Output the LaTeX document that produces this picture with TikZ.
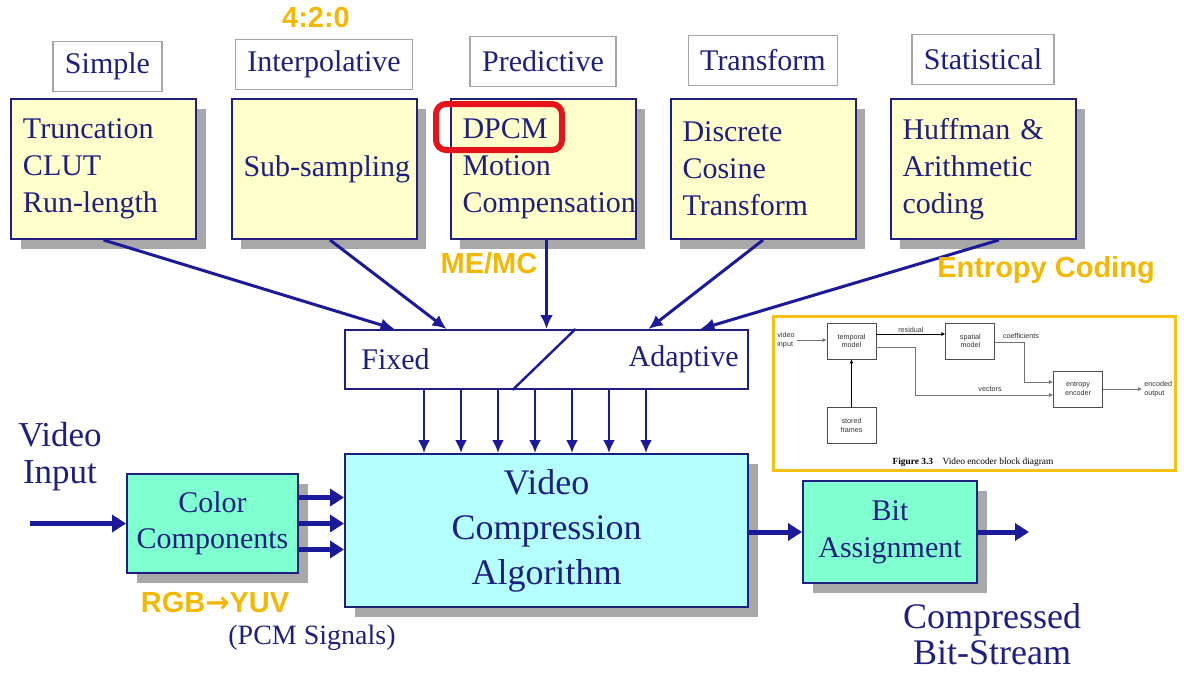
\documentclass[tikz,border=0pt]{standalone}
\usepackage{xcolor}
\usepackage{fontspec}
\setmainfont{Liberation Serif}
\newfontfamily\sansfam{Liberation Sans}
\newfontfamily\symfam{DejaVu Sans}
\usepackage{tikz}
\usetikzlibrary{arrows.meta,positioning,calc,shadows}
\definecolor{ink}{HTML}{1F1F7F}
\definecolor{wire}{HTML}{1A1A9A}
\definecolor{paper}{HTML}{FFFFCC}
\definecolor{aqua}{HTML}{80FFD0}
\definecolor{sky}{HTML}{B4FFFF}
\definecolor{amber}{HTML}{F5B800}
\definecolor{hilite}{HTML}{E5141B}
\definecolor{dropgray}{HTML}{A8A8A8}
\definecolor{goldline}{HTML}{F5C211}
\newcommand\cardfont{\fontsize{15}{18.5}\selectfont}
\newcommand\headfont{\fontsize{18}{22.5}\selectfont}
\newcommand\notefont{\sansfam\bfseries\fontsize{14.5}{17}\selectfont}
\newcommand\minifont{\sansfam\fontsize{3.6}{4.4}\selectfont}
\newcommand\capfont{\fontsize{4.7}{5.5}\selectfont}

\begin{document}
\begin{tikzpicture}[x=0.5pt,y=-0.5pt,every node/.style={text=ink},
 box/.style={draw=ink,line width=1pt,drop shadow={opacity=1,fill=dropgray,shadow xshift=4.75pt,shadow yshift=-4.75pt}},
 card/.style={box,fill=paper,minimum width=92.5pt,minimum height=70pt,inner xsep=6pt,text width=80.5pt,align=left,font=\cardfont},
 tag/.style={draw=gray!70,line width=0.7pt,fill=white,inner xsep=6pt,minimum height=25pt,font=\cardfont},
 note/.style={font=\notefont,text=amber,inner sep=0pt},
 feed/.style={-{Latex[length=7pt,width=6.5pt]},line width=1.5pt,draw=wire},
 drip/.style={-{Latex[length=6.5pt,width=6pt]},line width=1.2pt,draw=wire},
 pipe/.style={-{Triangle[length=7pt,width=8.5pt]},line width=2.5pt,draw=wire},
 mini/.style={draw=black!70,line width=0.4pt,minimum width=24.5pt,minimum height=18pt,inner sep=0pt,align=center,font=\minifont,text=black!80},
 thin/.style={-{Latex[length=2pt,width=2pt]},line width=0.35pt,draw=black!55},
 tiny/.style={font=\minifont,text=black!80,inner sep=0.5pt,align=left}]
\useasboundingbox (0,0) rectangle (1184,685);

% technique cards and their headings
\node[card] (simple) at (103.5,169) {Truncation\\CLUT\\Run-length};
\node[card] (interpolative) at (324,169) {\mbox{Sub-sampling}};
\node[card] (predictive) at (543,169) {DPCM\\Motion\\\mbox{Compensation}};
\node[card] (transform) at (763,169) {Discrete\\Cosine\\Transform};
\node[card] (statistical) at (983,169) {Huffman \&\\Arithmetic\\coding};
\node[tag,above=3pt of simple,xshift=2pt] (simplecat) {Simple};
\node[tag,above=4pt of interpolative] (interpcat) {Interpolative};
\node[tag,above=5.5pt of predictive] (predcat) {Predictive};
\node[tag,above=6pt of transform] (transcat) {Transform};
\node[tag,above=6.5pt of statistical] (statcat) {Statistical};
\node[draw=hilite,line width=3pt,rounded corners=5pt,minimum width=63pt,minimum height=23pt] (dpcmmark) at (499,127) {};

% fixed / adaptive switch
\node[draw=ink,line width=1pt,fill=white,minimum width=201.5pt,minimum height=29.5pt] (mode) at (546.5,359.5) {};
\node[font=\cardfont,inner sep=0pt,right=8.5pt of mode.west] (fixed) {Fixed};
\node[font=\cardfont,inner sep=0pt,left=5pt of mode.east] (adaptive) {Adaptive};
\draw[wire,line width=1.2pt] ($(mode.north)+(29,0)$) -- ($(mode.south)+(-34,0)$);
\draw[feed] (simple.south) -- ($(mode.north)+(-152,0)$);
\draw[feed] ($(interpolative.south)+(6,0)$) -- ($(mode.north)+(-100,0)$);
\draw[feed] (predictive.south -| mode.north) -- (mode.north);
\draw[feed] (transform.south) -- ($(mode.north)+(102,0)$);
\draw[feed] ($(statistical.south)+(16,0)$) -- ($(mode.north)+(154,0)$);

% main chain
\node[box,fill=sky,below=31.5pt of mode,minimum width=201.5pt,minimum height=76.5pt,align=center,font=\headfont] (vca) {Video\\Compression\\Algorithm};
\foreach \k in {0,...,6}
  \draw[drip] ($(mode.south west)+(80+37*\k,0)$) -- ($(vca.north west)+(80+37*\k,0)$);
\node[box,fill=aqua,minimum width=85.5pt,minimum height=49.5pt,align=center,font=\fontsize{15}{18}\selectfont] (color) at (212.5,523.5) {Color\\Components};
\node[align=center,font=\fontsize{17.5}{18.5}\selectfont] (vidin) at (60,457) {Video\\Input};
\coordinate (vin) at (30,523.5);
\draw[pipe] (vin) -- (color.west);
\foreach \dy in {-26,0,26}{
  \path ($(color.east)+(0,\dy)$) coordinate (src);
  \draw[pipe] (src) -- (src -| vca.west);}
\node[box,fill=aqua,minimum width=87pt,minimum height=51pt,align=center,font=\cardfont] (bit) at (890,532) {Bit\\Assignment};
\draw[pipe] (vca.east |- bit) -- (bit.west);
\coordinate (stream) at ($(bit.east)+(51,0)$);
\draw[pipe] (bit.east) -- (stream);
\node[align=center,font=\fontsize{18}{18}\selectfont] (outtext) at (992,634) {Compressed\\Bit-Stream};
\node[font=\fontsize{14}{16}\selectfont] (pcm) at (312,638) {(PCM Signals)};

% orange notes
\node[note] (ratio) at (316,18) {4:2:0};
\node[note] (memc) at (489,263) {ME/MC};
\node[note] (entcode) at (1046,270) {Entropy Coding};
\node[note] (rgbyuv) at (215,603) {RGB{\symfam\bfseries →}YUV};

% inset: encoder block diagram
\node[draw=goldline,line width=1.5pt,fill=white,minimum width=201pt,minimum height=77pt] (fig) at (974,393) {};
\node[mini] (temporal) at (851.5,341) {temporal\\model};
\node[mini,right=34.5pt of temporal] (spatial) {spatial\\model};
\node[mini] (entropy) at (1078,389) {entropy\\encoder};
\node[mini,below=24pt of temporal] (stored) {stored\\frames};
\coordinate (vin2) at (797,340);
\node[tiny,left=0.5pt of vin2] (vinlab) {video\\input};
\draw[thin] (vin2) -- (vin2 -| temporal.west);
\draw[thin,draw=black,line width=0.5pt] ($(temporal.east)+(0,-7)$) -- ($(spatial.west)+(0,-7)$) node[tiny,midway,above] (reslab) {residual};
\draw[thin] ($(spatial.east)+(0,1)$) -| ($(entropy.west)+(-29,-7)$) -- ($(entropy.west)+(0,-7)$);
\node[tiny] (coeflab) at (1021,336) {coefficients};
\draw[thin] ($(temporal.east)+(0,6)$) -| ($(entropy.west)+(-138,6)$) -- ($(entropy.west)+(0,6)$);
\node[tiny] (veclab) at (990,389) {vectors};
\coordinate (encout) at (1142,389);
\draw[thin] (entropy.east) -- (encout);
\node[tiny,right=0.5pt of encout] (outlab) {encoded\\output};
\draw[thin,draw=black,line width=0.5pt] (stored.north) -- (temporal.south);
\node[font=\capfont,text=black] (caption) at (973,462) {\textbf{Figure 3.3}\quad Video encoder block diagram};
\end{tikzpicture}
\end{document}
